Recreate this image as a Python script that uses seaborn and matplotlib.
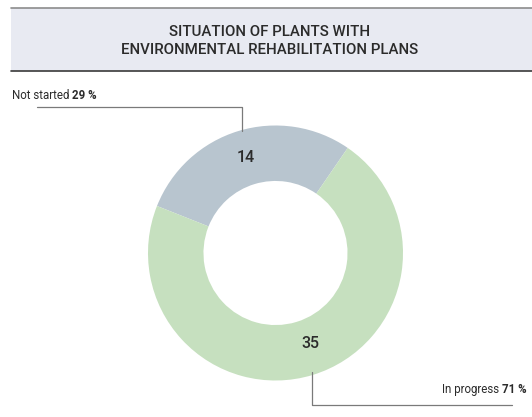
import matplotlib
matplotlib.use("Agg")
import matplotlib.pyplot as plt
from matplotlib.patches import Rectangle
from matplotlib.lines import Line2D
import seaborn as sns

# Data
categories = ["Not started", "In progress"]
counts = [14, 35]
percent_labels = ["29 %", "71 %"]
title_lines = ["SITUATION OF PLANTS WITH", "ENVIRONMENTAL REHABILITATION PLANS"]

sns.set_theme(style="white")
plt.rcParams["font.family"] = ["Roboto", "DejaVu Sans"]

W, H = 532, 417
fig = plt.figure(figsize=(W / 100, H / 100), dpi=100)
fig.patch.set_facecolor("white")

colors = ["#b8c5cf", "#c6e0bf"]
text_color = "#2b2b2b"
line_color = "#7a7a7a"

# Donut axes: centre at (275.5, 253) px, outer radius 127.5 px
cx, cy, r = 275.5, 253, 127.5
ax = fig.add_axes([(cx - r) / W, (H - cy - r) / H, 2 * r / W, 2 * r / H])
ax.pie(counts, colors=colors, startangle=55.5, counterclock=True,
       radius=1.0, wedgeprops=dict(width=0.435, edgecolor="none"))
ax.set_xlim(-1, 1)
ax.set_ylim(-1, 1)
ax.set_aspect("equal")
ax.axis("off")

# Overlay in pixel coordinates for header, labels and leader lines
ov = fig.add_axes([0, 0, 1, 1], zorder=5)
ov.set_xlim(0, W)
ov.set_ylim(H, 0)
ov.axis("off")
ov.patch.set_alpha(0)

# Value labels inside the ring
label_pos = [(246, 158), (310, 344)]
for v, (px, py) in zip(counts, label_pos):
    ov.text(px, py, str(v), ha="center", va="center", fontsize=11.5,
            color=text_color, fontweight="medium")

# Header band
ov.add_patch(Rectangle((11, 7.5), W - 11, 63.5, facecolor="#e8eaf2",
                       edgecolor="none"))
ov.add_line(Line2D([11, W], [7.5, 7.5], color="#8c8c8c", lw=1.2))
ov.add_line(Line2D([11, W], [71, 71], color="#3a3a3a", lw=1.2))
ov.text(270, 32, title_lines[0], ha="center", va="center", fontsize=10.8,
        color=text_color, fontweight="medium")
ov.text(270, 50, title_lines[1], ha="center", va="center", fontsize=10.8,
        color=text_color, fontweight="medium")

# Leader lines
ov.add_line(Line2D([37, 242, 242], [106.5, 106.5, 131], color=line_color, lw=0.9))
ov.add_line(Line2D([312, 312, 512], [372, 405, 405], color=line_color, lw=0.9))

# Category annotations: regular name followed by bold percentage
inv = ov.transData.inverted()


def annotate(x, y, name, pct):
    t = ov.text(x, y, name + " ", ha="left", va="center", fontsize=8.3,
                color=text_color)
    fig.canvas.draw()
    bb = t.get_window_extent()
    xe = inv.transform((bb.x1, bb.y0))[0]
    ov.text(xe, y, pct, ha="left", va="center", fontsize=8.3,
            color=text_color, fontweight="bold")


annotate(12, 95.5, categories[0], percent_labels[0])
annotate(442, 389.5, categories[1], percent_labels[1])

fig.savefig("out.png", dpi=100)
